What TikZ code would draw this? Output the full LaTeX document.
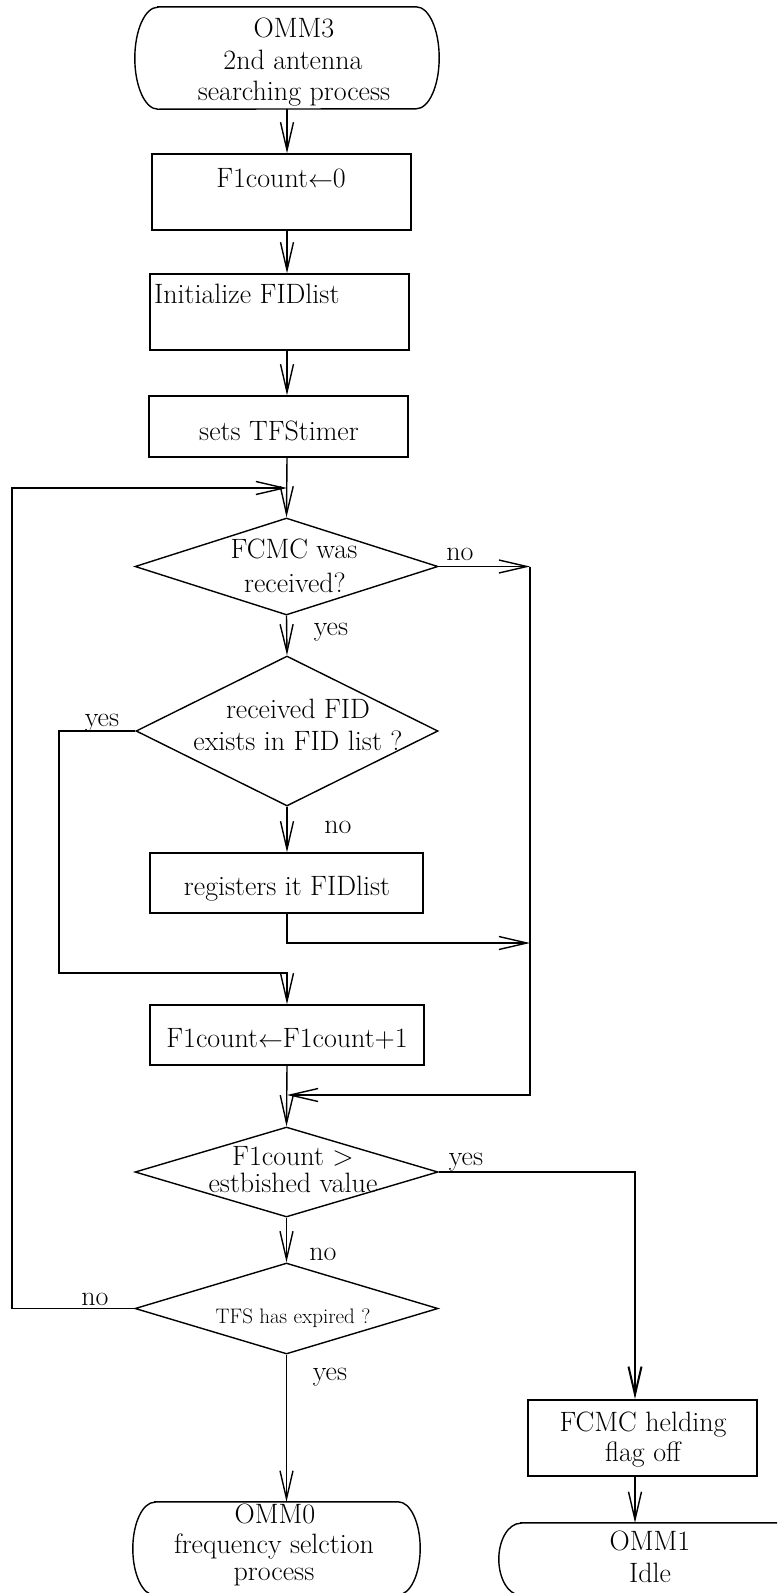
\documentclass[tikz,border=0pt]{standalone}
\usepackage{fontspec}
\usetikzlibrary{arrows.meta,shapes.geometric}
\tikzset{
  ln/.style={line width=1.4pt},
  arr/.style={ln, -{Straight Barb[length=28pt,width=13pt]}},
  box/.style={draw, ln, rectangle, inner sep=0pt},
  dia/.style={draw, ln, diamond, inner sep=0pt},
  term/.style={rectangle, inner sep=0pt},
  txt/.style={font=\fontsize{28}{33}\selectfont, anchor=base, inner sep=0pt},
  smalltxt/.style={font=\fontsize{21}{25}\selectfont, anchor=base, inner sep=0pt},
}
\newcommand\termline[3]{%
  \draw[ln] ([xshift=#2pt]#1.north west) -- ([xshift=-#2pt]#1.north east)
    arc[start angle=90,end angle=-90,x radius=#2pt,y radius=#3pt]
    -- ([xshift=#2pt]#1.south west)
    arc[start angle=270,end angle=90,x radius=#2pt,y radius=#3pt] -- cycle;}
\begin{document}
\begin{tikzpicture}[x=1pt,y=-1pt]
\useasboundingbox (0,0) rectangle (777,1593);
\clip (0,0) rectangle (777,1593);

% shapes
\node[term, minimum width=304pt, minimum height=102pt] (start) at (287,58) {};
\termline{start}{23}{51}
\node[box, minimum width=259pt, minimum height=76pt] (b1) at (281.5,192) {};
\node[box, minimum width=259pt, minimum height=76pt] (b2) at (279.5,312) {};
\node[box, minimum width=259pt, minimum height=61pt] (b3) at (278.5,426.5) {};
\node[dia, minimum width=303pt, minimum height=97pt] (d1) at (286.5,566.5) {};
\node[dia, minimum width=302pt, minimum height=150pt] (d2) at (287,731) {};
\node[box, minimum width=273pt, minimum height=60pt] (b4) at (286.5,883) {};
\node[box, minimum width=274pt, minimum height=60pt] (b5) at (287,1035) {};
\node[dia, minimum width=303pt, minimum height=90pt] (d3) at (286.5,1172) {};
\node[dia, minimum width=303pt, minimum height=91pt] (d4) at (286.5,1308.5) {};
\node[term, minimum width=287pt, minimum height=93pt] (omm0) at (276.5,1548.5) {};
\termline{omm0}{22}{46.5}
\node[box, line width=2pt, minimum width=229pt, minimum height=76pt] (fcmc) at (642.5,1438) {};
\node[term, minimum width=302pt, minimum height=72pt] (omm1) at (650,1559) {};
\termline{omm1}{22}{36}

% texts
\node[txt] (t0a) at (294,37) {OMM3};
\node[txt] (t0b) at (293,69) {2nd antenna};
\node[txt] (t0c) at (294,100) {searching process};
\node[txt] (t1) at (281,187) {F1count$\leftarrow$0};
\node[txt, anchor=base west] (t2) at (154,303) {Initialize FIDlist};
\node[txt] (t3) at (279,440) {sets TFStimer};
\node[txt] (t4a) at (294,558) {FCMC was};
\node[txt] (t4b) at (295,592) {received?};
\node[txt] (t5a) at (298,718) {received FID};
\node[txt] (t5b) at (298,750) {exists in FID list ?};
\node[txt] (t6) at (287,895) {registers it FIDlist};
\node[txt] (t7) at (287,1047) {F1count$\leftarrow$F1count+1};
\node[txt] (t8a) at (293,1165) {F1count >};
\node[txt] (t8b) at (293,1192) {estbished value};
\node[smalltxt] (t9) at (293,1323) {TFS has expired ?};
\node[txt] (t10a) at (275,1523) {OMM0};
\node[txt] (t10b) at (274,1553) {frequency selction};
\node[txt] (t10c) at (274,1580) {process};
\node[txt] (t11a) at (643,1431) {FCMC helding};
\node[txt] (t11b) at (643,1461) {flag off};
\node[txt] (t12a) at (650,1550) {OMM1};
\node[txt] (t12b) at (650,1582) {Idle};

% labels
\node[txt] (l1) at (460,560) {no};
\node[txt] (l2) at (331,635) {yes};
\node[txt] (l3) at (102,726) {yes};
\node[txt] (l4) at (338,833) {no};
\node[txt] (l5) at (466,1165) {yes};
\node[txt] (l6) at (323,1260) {no};
\node[txt] (l7) at (95,1305) {no};
\node[txt] (l8) at (330,1380) {yes};

% helper coordinates
\coordinate (loopx) at (12,0);
\coordinate (lx) at (59,0);
\coordinate (rx) at (530,0);
\coordinate (fx) at (635,0);
\coordinate (j1) at (287,488);
\coordinate (j2) at (287,1095);
\coordinate (j3) at (287,973);
\coordinate (j4) at (287,943);

% connectors
\draw[arr] (start.south) -- (start.south |- b1.north);
\draw[arr] (start.south |- b1.south) -- (start.south |- b2.north);
\draw[arr] (start.south |- b2.south) -- (start.south |- b3.north);
\draw[arr] (start.south |- b3.south) -- (d1.north);
\draw[arr] (d4.west) -- (d4.west -| loopx) -- (loopx |- j1) -- (j1);
\draw[arr] (d1.south) -- (d2.north);
\draw[arr] (d1.east) -- (d1.east -| rx);
\draw[arr] (d1.east -| rx) -- (rx |- j2) -- (j2);
\draw[arr] (d2.south) -- (d2.south |- b4.north);
\draw[arr] (d2.west) -- (d2.west -| lx) -- (lx |- j3) -- (j3) -- (j3 |- b5.north);
\draw[arr] (j4 |- b4.south) -- (j4) -- (j4 -| rx);
\draw[arr] (j3 |- b5.south) -- (d3.north);
\draw[arr, line width=2pt] (d3.east) -- (d3.east -| fx) -- (fx |- fcmc.north);
\draw[arr] (d3.south) -- (d4.north);
\draw[arr] (d4.south) -- (d4.south |- omm0.north);
\draw[arr] (fx |- fcmc.south) -- (fx |- omm1.north);
\end{tikzpicture}
\end{document}
